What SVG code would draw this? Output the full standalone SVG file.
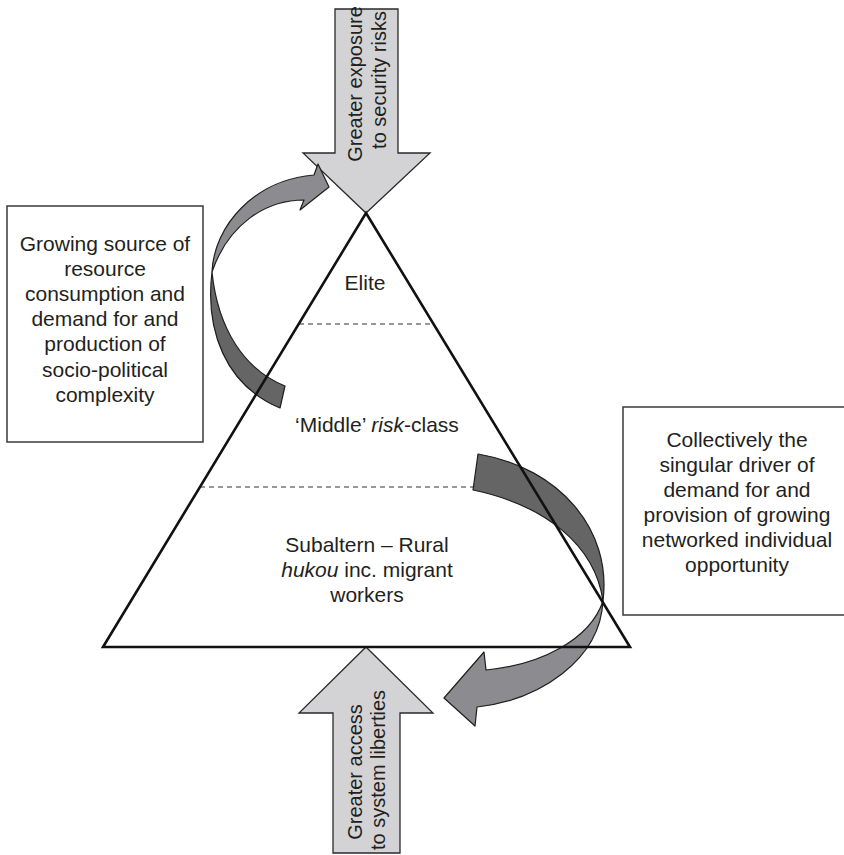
<svg xmlns="http://www.w3.org/2000/svg" width="844" height="855" viewBox="0 0 844 855">
  <style>
    text { font-family: "Liberation Sans", Arial, sans-serif; font-size: 21px; fill: #231f20; }
    .mid { text-anchor: middle; }
    .vert { font-size: 20px; }
    .box { fill: #ffffff; stroke: #3a3a3a; stroke-width: 1.5; }
    .flow { fill: #d3d3d5; stroke: #2a2a2a; stroke-width: 1.3; stroke-linejoin: miter; }
    .band-dark { fill: #656565; stroke: #1e1e1e; stroke-width: 1.2; stroke-linejoin: round; }
    .band-light { fill: #8c8c90; stroke: #1e1e1e; stroke-width: 1.2; stroke-linejoin: round; }
    .tier { stroke: #333333; stroke-width: 1.2; stroke-dasharray: 5 4; fill: none; }
    .pyramid { fill: none; stroke: #111111; stroke-width: 2.6; stroke-linejoin: miter; }
  </style>

  <!-- side annotation boxes -->
  <g id="box-left">
    <rect class="box" x="7" y="206" width="196" height="236"/>
    <text class="mid" x="105" y="251">Growing source of</text>
    <text class="mid" x="105" y="276">resource</text>
    <text class="mid" x="105" y="301">consumption and</text>
    <text class="mid" x="105" y="326">demand for and</text>
    <text class="mid" x="105" y="351">production of</text>
    <text class="mid" x="105" y="377">socio-political</text>
    <text class="mid" x="105" y="402">complexity</text>
  </g>

  <g id="box-right">
    <rect class="box" x="623" y="407" width="240" height="208"/>
    <text class="mid" x="737" y="447">Collectively the</text>
    <text class="mid" x="737" y="472">singular driver of</text>
    <text class="mid" x="737" y="497">demand for and</text>
    <text class="mid" x="737" y="522">provision of growing</text>
    <text class="mid" x="737" y="547">networked individual</text>
    <text class="mid" x="737" y="572">opportunity</text>
  </g>

  <!-- tier dividers inside the pyramid -->
  <g id="tiers">
    <line class="tier" x1="299" y1="324" x2="433" y2="324"/>
    <line class="tier" x1="200" y1="487" x2="480" y2="487"/>
  </g>

  <!-- vertical block arrows -->
  <g id="arrow-down">
    <polygon class="flow" points="335,9 398,9 398,153 430,153 366,213 303,153 335,153"/>
    <text class="mid vert" transform="translate(362,84) rotate(-90)">Greater exposure</text>
    <text class="mid vert" transform="translate(386,80) rotate(-90)">to security risks</text>
  </g>

  <g id="arrow-up">
    <polygon class="flow" points="366,647 433,713 400,713 400,853 333,853 333,713 299,713"/>
    <text class="mid vert" transform="translate(362,772) rotate(-90)">Greater access</text>
    <text class="mid vert" transform="translate(385,770) rotate(-90)">to system liberties</text>
  </g>

  <!-- curved feedback arrows -->
  <g id="connectors">
    <g id="curve-left">
      <path class="band-dark" d="M212,272 C205,330 225,385 280,408 L285,386 C245,370 218,330 212,272 Z"/>
      <path class="band-light" d="M212,272 C214,225 255,180 314,175 L318,164 L329,187 L300,210 L304,200 C265,200 228,225 212,272 Z"/>
    </g>
    <g id="curve-right">
      <path class="band-dark" d="M478,454 C560,468 612,530 603,601 C595,545 545,505 473,490 Z"/>
      <path class="band-light" d="M603,601 C590,640 540,665 486,670 L484,652 L444,698 L475,726 L477,707 C540,700 600,660 603,601 Z"/>
    </g>
  </g>

  <!-- pyramid outline and tier labels -->
  <g id="pyramid">
    <polygon class="pyramid" points="366,213 630,647 103,647"/>
    <text class="mid" x="365" y="290">Elite</text>
    <text class="mid" x="377" y="432">‘Middle’ <tspan font-style="italic">risk</tspan>-class</text>
    <text class="mid" x="367" y="552">Subaltern – Rural</text>
    <text class="mid" x="367" y="577"><tspan font-style="italic">hukou</tspan> inc. migrant</text>
    <text class="mid" x="367" y="602">workers</text>
  </g>
</svg>
